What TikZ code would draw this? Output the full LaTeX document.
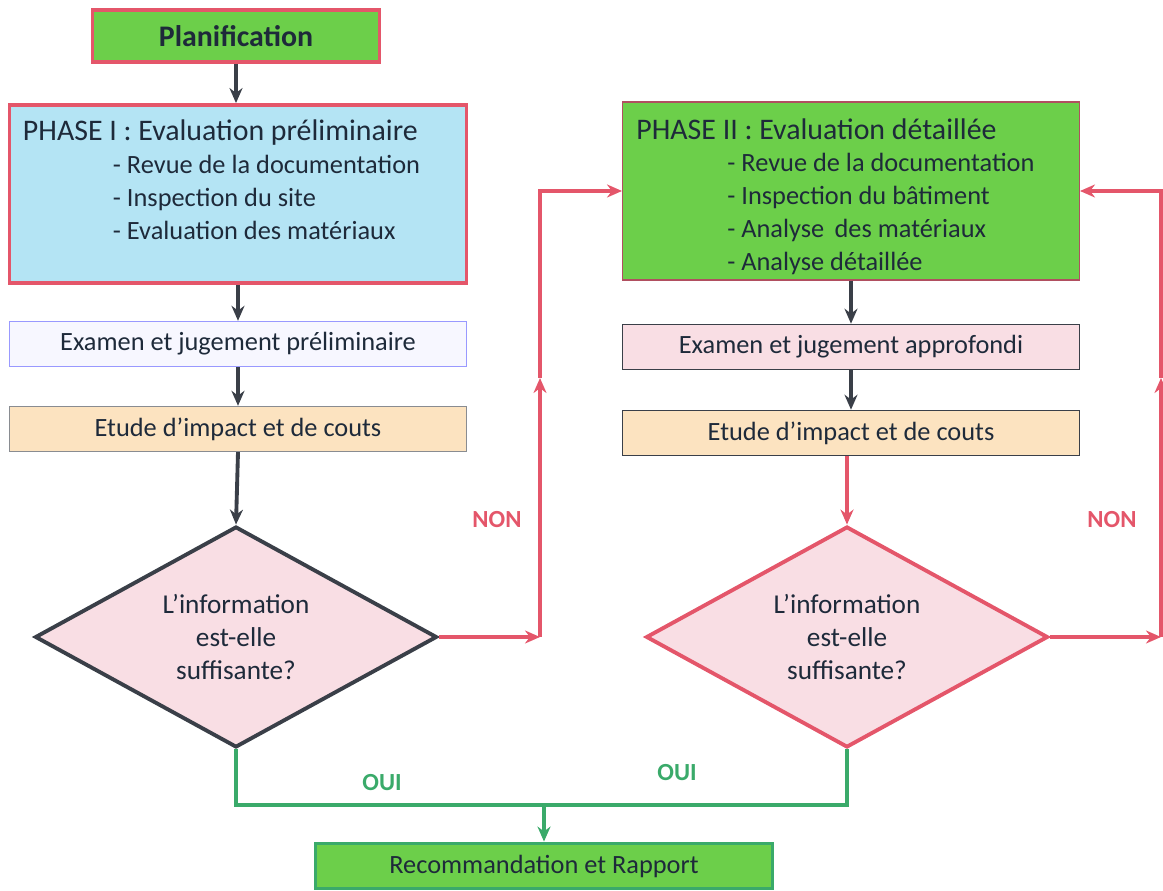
\documentclass[tikz,border=0pt]{standalone}
\usepackage{fontspec}
\setmainfont{Carlito}
\usetikzlibrary{arrows.meta,positioning,shapes.geometric,calc}

\definecolor{vert}{HTML}{6CCF4A}
\definecolor{bleuclair}{HTML}{B4E4F4}
\definecolor{rose}{HTML}{F9DEE4}
\definecolor{beige}{HTML}{FCE3C0}
\definecolor{rouge}{HTML}{E4566A}
\definecolor{gris}{HTML}{3A3F48}
\definecolor{vertfonce}{HTML}{3AAA6A}
\definecolor{texte}{HTML}{1E2A3A}

\begin{document}
\begin{tikzpicture}[
    x=0.02cm, y=-0.02cm,
    every node/.style={text=texte, font=\fontsize{15}{18.8}\selectfont},
    box/.style={draw, minimum width=9.14cm, minimum height=0.9cm, inner sep=0pt},
    bigbox/.style={box, minimum height=3.56cm},
    question/.style={diamond, draw, line width=2.2pt, fill=rose, minimum width=8.04cm, minimum height=4.42cm, inner sep=0pt},
    qtext/.style={align=center, inner sep=0pt, font=\fontsize{15.5}{18.8}\selectfont},
    arr/.style={-{Stealth[length=3mm, width=2.6mm]}, line width=2.2pt, gris},
    arrred/.style={arr, rouge},
    arrgreen/.style={arr, vertfonce},
    lab/.style={font=\fontsize{14}{16}\selectfont\bfseries}
]
\useasboundingbox (0,0) rectangle (1163,891);

% colonne gauche
\node[box, draw=rouge, line width=2.2pt, fill=vert, minimum width=5.74cm, minimum height=1.04cm,
      font=\fontsize{17}{20}\selectfont\bfseries] (plan) at (236,36) {Planification};
\node[bigbox, draw=rouge, line width=2.2pt, fill=bleuclair] (ph1) at (238,194) {};
\node[anchor=west, inner sep=0pt, font=\fontsize{17}{20}\selectfont] (ph1t) at ($(ph1.north west)+(15,29)$) {PHASE I : Evaluation préliminaire};
\node[anchor=north west, inner sep=0pt, align=left] (ph1l) at ($(ph1.north west)+(105,52)$)
    {- Revue de la documentation\\- Inspection du site\\- Evaluation des matériaux};
\node[box, draw=blue!40, line width=0.8pt, fill=blue!3] (ex1) at (238,344) {Examen et jugement préliminaire};
\node[box, draw=gris!60, line width=0.8pt, fill=beige] (et1) at (238,429) {Etude d'impact et de couts};
\node[question, draw=gris] (d1) at (236,637) {};
\node[qtext] (d1t) at (d1) {L'information\\est-elle\\suffisante?};

% colonne droite
\node[bigbox, draw=rouge!70!gris, line width=0.6pt, fill=vert] (ph2) at (851,191) {};
\node[anchor=west, inner sep=0pt, font=\fontsize{17}{20}\selectfont] (ph2t) at ($(ph2.north west)+(14,28)$) {PHASE II : Evaluation détaillée};
\node[anchor=north west, inner sep=0pt, align=left] (ph2l) at ($(ph2.north west)+(105,51)$)
    {- Revue de la documentation\\- Inspection du bâtiment\\- Analyse \,des matériaux\\- Analyse détaillée};
\node[box, draw=gris, line width=0.9pt, fill=rose] (ex2) at (851,347) {Examen et jugement approfondi};
\node[box, draw=gris, line width=0.9pt, fill=beige] (et2) at (851,433) {Etude d'impact et de couts};
\node[question, draw=rouge] (d2) at (847,637) {};
\node[qtext] (d2t) at (d2) {L'information\\est-elle\\suffisante?};

\node[box, draw=vertfonce, line width=2.2pt, fill=vert] (rec) at (544,866) {Recommandation et Rapport};

% liens
\draw[arr] (plan.south) -- (plan.south |- ph1.north);
\draw[arr] (ph1.south) -- (ex1.north);
\draw[arr] (ex1) -- (et1);
\draw[arr] (et1.south) -- (d1.north);
\draw[arr] (ph2.south) -- (ph2.south |- ex2.north);
\draw[arr] (ex2) -- (et2);
\draw[arrred] (et2.south -| d2.north) -- (d2.north);

% boucles NON
\coordinate (c1) at (540,637);
\coordinate (m1) at (540,378);
\coordinate (c2) at (1161,637);
\coordinate (m2) at (1161,378);
\draw[arrred] (d1.east) -- (c1);
\draw[arrred] (c1) -- (m1);
\draw[arrred] (m1) |- (ph2.west);
\draw[arrred] (d2.east) -- (c2);
\draw[arrred] (c2) -- (m2);
\draw[arrred] (m2) |- (ph2.east);
\node[lab, text=rouge] (non1) at (497,520) {NON};
\node[lab, text=rouge] (non2) at (1112,520) {NON};

% sorties OUI
\coordinate (j) at (544,805);
\draw[vertfonce, line width=2.2pt] (d1.south) |- (j) -| (d2.south);
\draw[arrgreen] (j) -- (rec.north);
\node[lab, text=vertfonce] (oui1) at (382,783) {OUI};
\node[lab, text=vertfonce] (oui2) at (677,773) {OUI};
\end{tikzpicture}
\end{document}
